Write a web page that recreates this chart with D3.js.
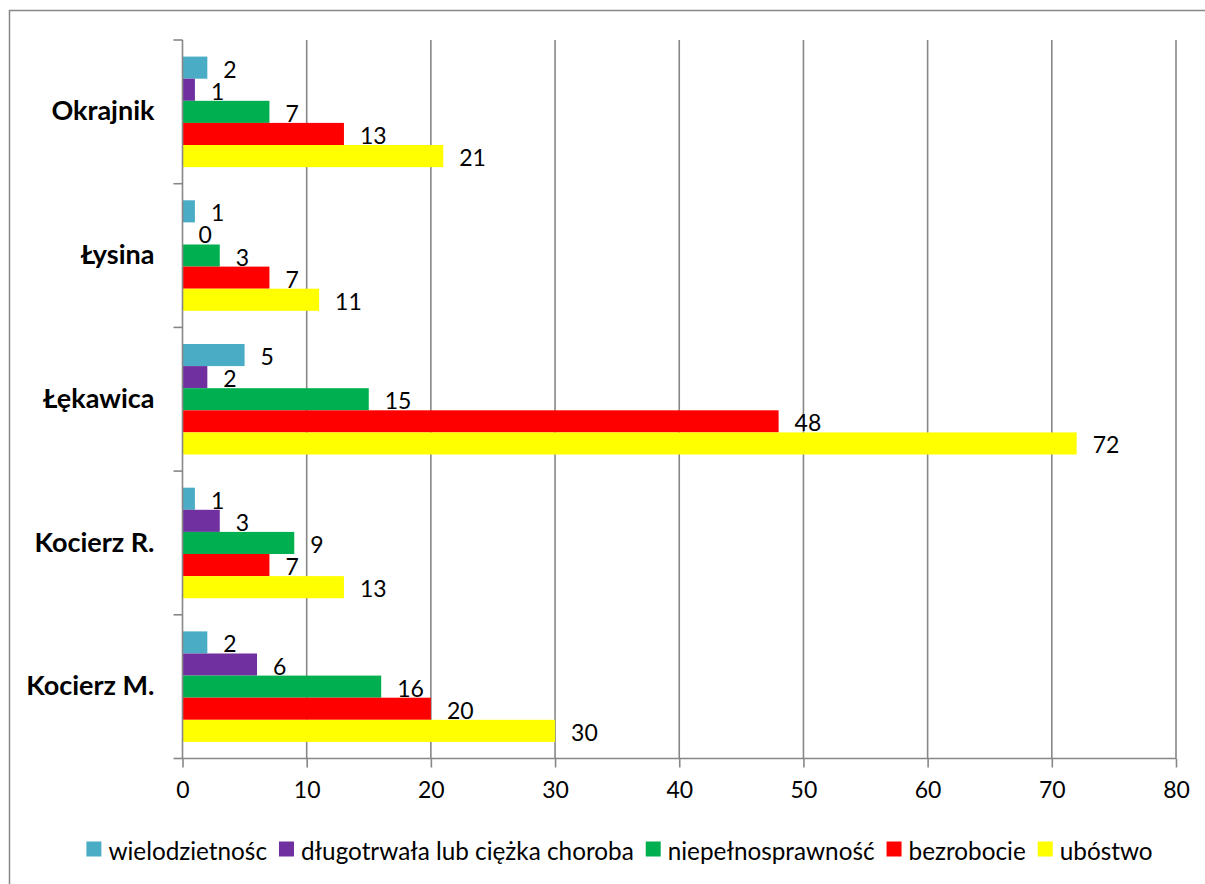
<!DOCTYPE html>
<html><head><meta charset="utf-8">
<script src="https://cdn.jsdelivr.net/npm/d3@7"></script>
<style>
html,body{margin:0;padding:0;background:#fff;}
svg{display:block;}
text{font-family:Lato,"Open Sans",sans-serif;fill:#000;}
</style></head>
<body>
<svg id="chart" width="1205" height="884"></svg>
<script>
const categories = ["Okrajnik", "Łysina", "Łękawica", "Kocierz R.", "Kocierz M."];
const seriesNames = ["wielodzietnośc", "długotrwała lub ciężka choroba", "niepełnosprawność", "bezrobocie", "ubóstwo"];
const seriesColors = ["#4BACC6", "#7030A0", "#00B050", "#FF0000", "#FFFF00"];
const wielodzietnosc = [2, 1, 5, 1, 2];
const choroba = [1, 0, 2, 3, 6];
const niepelnosprawnosc = [7, 3, 15, 9, 16];
const bezrobocie = [13, 7, 48, 7, 20];
const ubostwo = [21, 11, 72, 13, 30];
const xTicks = [0, 10, 20, 30, 40, 50, 60, 70, 80];
const seriesValues = [wielodzietnosc, choroba, niepelnosprawnosc, bezrobocie, ubostwo];

const svg = d3.select("#chart");
const fs = 23;
const gridColor = "#878787";

// outer border
svg.append("rect").attr("x", 9.5).attr("y", 10.5).attr("width", 1300).attr("height", 1000)
  .attr("fill", "none").attr("stroke", gridColor).attr("stroke-width", 1.5);

const x = d3.scaleLinear().domain([0, 80]).range([182.5, 1176]);
const y = d3.scaleBand().domain(categories).range([40, 758.5]);
const bw = y.bandwidth();
const bar = bw / 6.5;
const yi = d3.scaleBand().domain(seriesNames).range([bar * 0.75, bw - bar * 0.75]);

// gridlines
svg.append("g").selectAll("line").data(xTicks.filter(d => d > 0)).join("line")
  .attr("x1", d => x(d)).attr("x2", d => x(d)).attr("y1", 40).attr("y2", 758.5)
  .attr("stroke", gridColor).attr("stroke-width", 1.6);

// bars
const groups = svg.append("g").selectAll("g").data(categories).join("g")
  .attr("transform", c => `translate(0,${y(c)})`);
seriesNames.forEach((s, si) => {
  groups.append("rect")
    .attr("x", x(0))
    .attr("y", yi(s))
    .attr("width", (c, ci) => x(seriesValues[si][ci]) - x(0))
    .attr("height", yi.bandwidth())
    .attr("fill", seriesColors[si]);
  groups.append("text")
    .attr("x", (c, ci) => x(seriesValues[si][ci]) + 16)
    .attr("y", yi(s) + yi.bandwidth() / 2 + 1)
    .attr("dominant-baseline", "central")
    .attr("font-size", fs)
    .text((c, ci) => seriesValues[si][ci]);
});

// x axis
const xAxis = d3.axisBottom(x).tickValues(xTicks).tickSize(9).tickPadding(14).tickFormat(d3.format("d"));
const gx = svg.append("g").attr("transform", "translate(0,758.5)").call(xAxis);
gx.select(".domain").attr("stroke", gridColor).attr("stroke-width", 1.6).attr("d", `M${x(0)},0H${x(80)}`);
gx.selectAll(".tick line").attr("stroke", gridColor).attr("stroke-width", 1.6);
gx.selectAll(".tick text").attr("font-size", fs).attr("font-family", "Lato").attr("fill", "#000");

// y axis
const yAxis = d3.axisLeft(y).tickSize(0).tickPadding(28);
const gy = svg.append("g").attr("transform", `translate(${x(0)},0)`).call(yAxis);
gy.select(".domain").attr("stroke", gridColor).attr("stroke-width", 1.6).attr("d", "M0,40V758.5");
gy.selectAll(".tick text").attr("font-size", 27).attr("font-weight", "bold").attr("font-family", "Lato").attr("fill", "#000");
const bounds = categories.map(c => y(c)).concat([y(categories[categories.length - 1]) + bw]);
svg.append("g").selectAll("line").data(bounds).join("line")
  .attr("x1", x(0) - 9).attr("x2", x(0)).attr("y1", d => d).attr("y2", d => d)
  .attr("stroke", gridColor).attr("stroke-width", 1.6);

// legend
const leg = svg.append("g");
const items = leg.selectAll("g").data(seriesNames).join("g");
items.append("rect").attr("width", 15).attr("height", 15).attr("y", -7.5).attr("fill", (d, i) => seriesColors[i]);
items.append("text").attr("x", 22).attr("dominant-baseline", "central").attr("y", 1).attr("font-size", 24.3).text(d => d);
let widths = [];
items.each(function () { widths.push(22 + d3.select(this).select("text").node().getComputedTextLength()); });
const gap = 12;
const total = d3.sum(widths) + gap * (widths.length - 1);
let cx = 619.5 - total / 2;
items.attr("transform", (d, i) => { const t = `translate(${cx},849)`; cx += widths[i] + gap; return t; });
</script>
</body></html>
